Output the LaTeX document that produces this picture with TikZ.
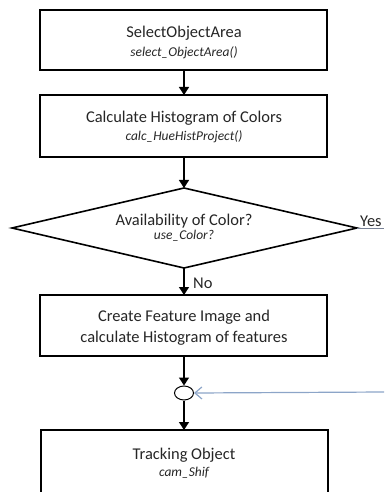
\documentclass[tikz,border=0pt]{standalone}
\usepackage{fontspec}
\setmainfont{Carlito}
\usetikzlibrary{arrows.meta,shapes.geometric}
\begin{document}
\begin{tikzpicture}[x=1bp,y=-1bp,
  procbox/.style={draw=black,line width=1.6bp,fill=white},
  flow/.style={draw=black,line width=1.3bp,-{Triangle[width=10bp,length=8bp]}},
  title/.style={font=\fontsize{16.5}{18}\selectfont,text=black!85},
  fname/.style={font=\fontsize{13.5}{15}\selectfont\itshape,text=black!85},
  loopline/.style={draw={rgb,255:red,140;green,165;blue,200},line width=1.2bp},
  yesline/.style={draw={rgb,255:red,120;green,130;blue,150},line width=0.8bp}
]
\useasboundingbox (0,0) rectangle (384,492);
\clip (0,0) rectangle (384,492);

% process boxes
\draw[procbox] (40,10) rectangle (327,70);
\node[title] (t1) at (184,33) {SelectObjectArea};
\node[fname] (f1) at (184,53) {select\_ObjectArea()};
\coordinate (b1s) at (184,70);
\coordinate (b1n) at (184,10);

\draw[procbox] (40,95) rectangle (327,157);
\node[title] (t2) at (184,118) {Calculate Histogram of Colors};
\node[fname] (f2) at (184,137) {calc\_HueHistProject()};
\coordinate (b2n) at (184,95);
\coordinate (b2s) at (184,157);

% decision
\coordinate (dn) at (184,188);
\coordinate (dw) at (12,228);
\coordinate (de) at (357,228);
\coordinate (ds) at (184,268);
\draw[procbox,line join=miter] (dn) -- (de) -- (ds) -- (dw) -- cycle;
\node[title] (t3) at (184,221) {Availability of Color?};
\node[fname] (f3) at (184,236) {use\_Color?};

\draw[procbox] (40,295) rectangle (327,356);
\node[title] (t4) at (184,317) {Create Feature Image and};
\node[title] (t5) at (184,338) {calculate Histogram of features};
\coordinate (b3n) at (184,295);
\coordinate (b3s) at (184,356);

% merge point
\node[draw=black,line width=1bp,ellipse,minimum width=19bp,minimum height=14bp,inner sep=0pt] (merge) at (184,393) {};

\draw[procbox] (41,430) rectangle (328,510);
\node[title] (t6) at (184,455) {Tracking Object};
\node[fname] (f6) at (184,473) {cam\_Shif};
\coordinate (b4n) at (184,430);

% connectors
\draw[flow] (b1s) -- (b1n |- b2n);
\draw[flow] (b2s) -- (dn);
\draw[flow] (ds) -- (b3n);
\node[title,anchor=west,inner sep=0pt] (no) at (193,283) {No};
\draw[flow] (b3s) -- (merge.north);
\draw[flow] (merge.south) -- (b4n);

% yes branch and loop back
\coordinate (yesend) at (384,228);
\draw[yesline] (de) -- (yesend);
\node[title,anchor=south west,inner sep=1bp] (yes) at (359,228) {Yes};
\coordinate (loopend) at (384,392);
\draw[loopline,-{Straight Barb[length=7bp,width=12bp]}] (loopend) -- (merge.east);
\end{tikzpicture}
\end{document}
